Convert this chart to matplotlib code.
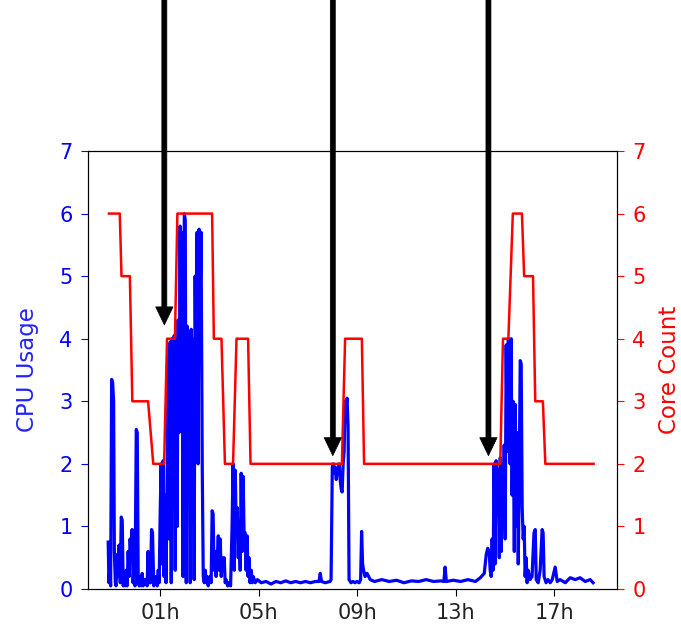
import matplotlib
matplotlib.use("Agg")
import matplotlib.pyplot as plt

# ---- data (time in hours, relative to 00h of the day) ----
core_hours = [-1.08, -0.64, -0.57, -0.23, -0.13, 0.51, 0.72, 1.16, 1.28, 1.60, 1.70,
              3.11, 3.18, 3.49, 3.63, 3.96, 4.10, 4.57, 4.67, 8.38, 8.51, 9.19, 9.28,
              14.81, 14.92, 15.14, 15.32, 15.69, 15.78, 16.14, 16.23, 16.54, 16.64, 18.60]
core_count = [6, 6, 5, 5, 3, 3, 2, 2, 4, 4, 6,
              6, 4, 4, 2, 2, 4, 4, 2, 2, 4, 4, 2,
              2, 4, 4, 6, 6, 5, 5, 3, 3, 2, 2]

cpu_hours = [
    -1.11, -1.08, -1.05, -1.01, -0.97, -0.93, -0.89, -0.86, -0.82, -0.79,
    -0.75, -0.71, -0.67, -0.62, -0.58, -0.54, -0.50, -0.46, -0.42, -0.38,
    -0.34, -0.30, -0.26, -0.22, -0.18, -0.14, -0.10, -0.06, -0.02, 0.03,
    0.07, 0.11, 0.15, 0.19, 0.23, 0.27, 0.31, 0.39, 0.47, 0.51,
    0.55, 0.61, 0.65, 0.69, 0.74, 0.80, 0.84, 0.88, 0.92, 0.96,
    1.00, 1.04, 1.08, 1.12, 1.16, 1.20, 1.24, 1.29, 1.33, 1.37,
    1.41, 1.45, 1.49, 1.53, 1.57, 1.61, 1.65, 1.69, 1.73, 1.77,
    1.81, 1.85, 1.89, 1.93, 1.98, 2.02, 2.06, 2.10, 2.14, 2.18,
    2.22, 2.26, 2.30, 2.34, 2.38, 2.42, 2.46, 2.50, 2.54, 2.58,
    2.62, 2.66, 2.71, 2.75, 2.79, 2.83, 2.87, 2.91, 2.95, 2.99,
    3.03, 3.07, 3.11, 3.15, 3.19, 3.23, 3.27, 3.32, 3.36, 3.40,
    3.44, 3.48, 3.52, 3.56, 3.60, 3.64, 3.68, 3.74, 3.80, 3.86,
    3.92, 3.96, 4.01, 4.05, 4.09, 4.13, 4.17, 4.21, 4.25, 4.29,
    4.33, 4.37, 4.41, 4.45, 4.49, 4.53, 4.57, 4.61, 4.65, 4.70,
    4.74, 4.78, 4.86, 4.95, 5.10, 5.30, 5.50, 5.70, 5.90, 6.10,
    6.30, 6.50, 6.70, 6.90, 7.10, 7.30, 7.45, 7.50, 7.55, 7.70,
    7.90, 7.94, 7.99, 8.03, 8.07, 8.11, 8.15, 8.19, 8.23, 8.27,
    8.31, 8.35, 8.39, 8.43, 8.47, 8.51, 8.55, 8.59, 8.63, 8.67,
    8.75, 8.83, 8.91, 8.99, 9.08, 9.14, 9.18, 9.22, 9.26, 9.32,
    9.40, 9.53, 9.70, 10.00, 10.30, 10.60, 10.90, 11.20, 11.50, 11.80,
    12.10, 12.40, 12.52, 12.57, 12.62, 12.90, 13.20, 13.50, 13.80, 14.00,
    14.16, 14.24, 14.30, 14.36, 14.40, 14.44, 14.48, 14.52, 14.56, 14.60,
    14.64, 14.68, 14.73, 14.77, 14.81, 14.85, 14.89, 14.93, 14.97, 15.01,
    15.05, 15.09, 15.13, 15.17, 15.21, 15.25, 15.29, 15.33, 15.38, 15.42,
    15.46, 15.50, 15.54, 15.58, 15.62, 15.66, 15.70, 15.74, 15.78, 15.82,
    15.86, 15.90, 15.94, 16.02, 16.10, 16.18, 16.23, 16.27, 16.35, 16.43,
    16.51, 16.55, 16.59, 16.67, 16.75, 16.84, 16.92, 17.04, 17.12, 17.24,
    17.45, 17.65, 17.85, 18.05, 18.26, 18.46, 18.58]
cpu_usage = [
    0.75, 0.10, 0.30, 0.05, 3.35, 3.30, 3.00, 0.60, 0.10, 0.05,
    0.55, 0.20, 0.70, 0.10, 1.15, 1.10, 0.05, 0.15, 0.05, 0.30,
    0.05, 0.60, 0.20, 0.80, 0.50, 0.95, 0.10, 0.40, 0.05, 2.55,
    2.50, 0.10, 0.05, 0.20, 0.05, 0.25, 0.05, 0.15, 0.05, 0.60,
    0.10, 0.10, 0.95, 0.90, 0.05, 0.10, 0.20, 0.05, 0.30, 0.10,
    1.20, 2.00, 0.40, 2.05, 0.20, 1.50, 0.10, 2.10, 3.90, 0.80,
    3.95, 0.10, 4.00, 2.00, 4.05, 0.30, 4.00, 1.00, 4.30, 2.50,
    5.80, 3.00, 5.70, 0.20, 6.00, 5.90, 0.10, 4.20, 1.50, 4.10,
    0.10, 4.15, 1.90, 4.00, 0.15, 5.00, 3.00, 5.70, 2.00, 5.75,
    4.50, 5.70, 1.90, 0.20, 0.10, 0.30, 0.10, 0.20, 0.05, 0.15,
    0.20, 0.10, 1.25, 1.20, 0.30, 0.60, 0.20, 0.50, 0.85, 0.30,
    0.80, 0.20, 0.50, 0.30, 0.50, 0.10, 0.15, 0.05, 0.10, 0.05,
    1.00, 2.00, 0.30, 1.90, 0.90, 1.30, 0.50, 1.00, 0.30, 1.85,
    0.60, 1.80, 0.80, 0.90, 0.30, 0.85, 0.20, 0.50, 0.10, 0.30,
    0.10, 0.20, 0.10, 0.15, 0.10, 0.12, 0.08, 0.12, 0.10, 0.13,
    0.10, 0.12, 0.10, 0.12, 0.10, 0.12, 0.12, 0.25, 0.12, 0.10,
    0.12, 0.15, 1.95, 2.00, 1.85, 1.95, 1.75, 1.90, 1.85, 2.00,
    1.75, 1.60, 1.55, 2.00, 2.20, 3.00, 2.95, 3.05, 2.60, 0.15,
    0.10, 0.12, 0.10, 0.12, 0.10, 0.15, 0.92, 0.40, 0.30, 0.20,
    0.25, 0.15, 0.12, 0.15, 0.12, 0.14, 0.10, 0.13, 0.12, 0.15,
    0.12, 0.13, 0.12, 0.35, 0.12, 0.14, 0.12, 0.15, 0.12, 0.18,
    0.25, 0.55, 0.65, 0.60, 0.30, 0.20, 0.80, 0.30, 2.00, 0.40,
    2.05, 1.20, 1.90, 0.50, 2.10, 0.60, 2.00, 1.00, 2.30, 0.80,
    3.90, 2.20, 4.00, 3.95, 2.00, 4.00, 1.50, 3.00, 0.60, 2.95,
    1.00, 2.50, 0.40, 1.80, 3.65, 3.60, 1.30, 0.80, 1.00, 0.20,
    0.50, 0.10, 0.30, 0.15, 0.20, 0.90, 0.95, 0.15, 0.10, 0.30,
    0.95, 0.90, 0.20, 0.10, 0.15, 0.10, 0.15, 0.35, 0.12, 0.15,
    0.10, 0.18, 0.15, 0.18, 0.12, 0.15, 0.10]

tick_hours = [1, 5, 9, 13, 17]
tick_labels = ["01h", "05h", "09h", "13h", "17h"]

arrow_hours = [1.17, 8.01, 14.33]
arrow_values = [4.22, 2.13, 2.13]

FS = 15
LFS = 16.5

# ---- figure ----
fig = plt.figure(figsize=(6.81, 6.32), dpi=100)
ax1 = fig.add_axes([88 / 681, (632 - 589) / 632, (617 - 88) / 681, (589 - 151) / 632])
ax2 = ax1.twinx()

ax1.plot(cpu_hours, cpu_usage, color="blue", linewidth=2.3)
ax2.plot(core_hours, core_count, color="red", linewidth=1.8)

ax1.set_ylim(0, 7)
ax2.set_ylim(0, 7)
ax1.set_xlim(-1.93, 19.55)
ax1.set_xticks(tick_hours)
ax1.set_xticklabels(tick_labels)

ax1.set_ylabel("CPU Usage", color="#2222ff", fontsize=LFS, labelpad=15)
ax2.set_ylabel("Core Count", color="red", fontsize=LFS, labelpad=9)
ax1.tick_params(axis="y", colors="blue", labelsize=FS, length=5, pad=6)
ax2.tick_params(axis="y", colors="red", labelsize=FS, length=5, pad=6)
ax1.tick_params(axis="x", labelsize=FS, length=5, pad=5)
for lab in ax1.get_xticklabels():
    lab.set_color("#222222")

for xh, yv in zip(arrow_hours, arrow_values):
    ax2.annotate("", xy=(xh, yv), xytext=(xh, 9.6), textcoords="data",
                 annotation_clip=False,
                 arrowprops=dict(facecolor="black", edgecolor="black", linewidth=0.5,
                                 width=3.6, headwidth=12.5, headlength=13, shrink=0))

fig.savefig("out.png", dpi=100)
